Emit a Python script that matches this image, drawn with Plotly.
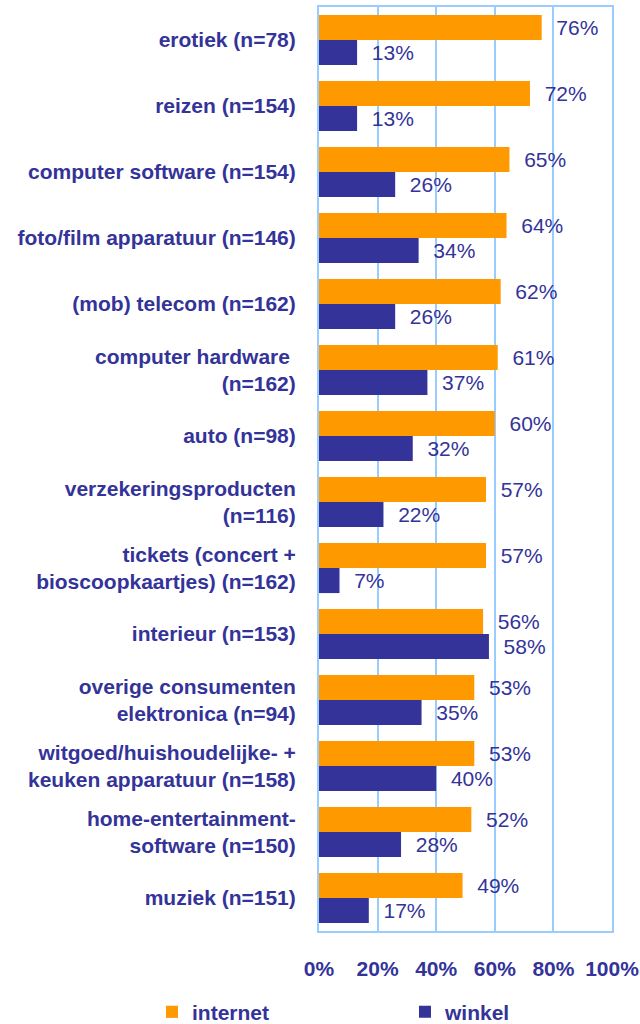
import plotly.graph_objects as go

categories = [
    "erotiek (n=78)",
    "reizen (n=154)",
    "computer software (n=154)",
    "foto/film apparatuur (n=146)",
    "(mob) telecom (n=162)",
    "computer hardware <br>(n=162)",
    "auto (n=98)",
    "verzekeringsproducten<br>(n=116)",
    "tickets (concert +<br>bioscoopkaartjes) (n=162)",
    "interieur (n=153)",
    "overige consumenten<br>elektronica (n=94)",
    "witgoed/huishoudelijke- +<br>keuken apparatuur (n=158)",
    "home-entertainment-<br>software (n=150)",
    "muziek (n=151)",
]
internet = [76, 72, 65, 64, 62, 61, 60, 57, 57, 56, 53, 53, 52, 49]
winkel = [13, 13, 26, 34, 26, 37, 32, 22, 7, 58, 35, 40, 28, 17]
x_ticks = [0, 20, 40, 60, 80, 100]
x_tick_labels = ["0%", "20%", "40%", "60%", "80%", "100%"]

ORANGE = "#FF9900"
BLUE = "#333399"
GRID = "#99CCFF"
FONT = "Arial, Liberation Sans, sans-serif"
FS = 21

fig = go.Figure()
for name, vals, col, lg in [("internet", internet, ORANGE, "legend"),
                            ("winkel", winkel, BLUE, "legend2")]:
    fig.add_trace(go.Bar(
        name=name, y=categories, x=vals, orientation="h",
        marker=dict(color=col, line=dict(width=0)),
        text=["\u00a0\u00a0%d%%" % v for v in vals],
        textposition="outside", constraintext="none", cliponaxis=False,
        textfont=dict(family=FONT, size=FS, color=BLUE),
        legend=lg,
    ))

legend_common = dict(
    orientation="h", xref="container", yref="container",
    xanchor="left", yanchor="middle", y=0.0115,
    font=dict(family=FONT, size=FS, color=BLUE, weight="bold"),
    bgcolor="rgba(0,0,0,0)",
)

fig.update_layout(
    width=640, height=1024,
    margin=dict(l=319, r=28, t=7, b=93),
    paper_bgcolor="white", plot_bgcolor="white",
    barmode="group", bargap=0.24, bargroupgap=0,
    font=dict(family=FONT, size=FS, color=BLUE),
    showlegend=True,
    legend=dict(legend_common, x=0.2375),
    legend2=dict(legend_common, x=0.6328),
)
fig.update_xaxes(
    range=[0, 100], tickvals=x_ticks, ticktext=x_tick_labels,
    showgrid=True, gridcolor=GRID, gridwidth=2,
    showline=True, linecolor=GRID, linewidth=2, mirror=True,
    zeroline=False, ticks="outside", ticklen=18, tickcolor="rgba(0,0,0,0)",
    tickfont=dict(family=FONT, size=FS, color=BLUE, weight="bold"),
    fixedrange=True, automargin=False,
)
fig.update_yaxes(
    autorange="reversed", showgrid=False,
    showline=True, linecolor=GRID, linewidth=2, mirror=True,
    ticks="outside", ticklen=17, tickcolor="rgba(0,0,0,0)",
    tickfont=dict(family=FONT, size=FS, color=BLUE, weight="bold"),
    fixedrange=True, automargin=False,
)

fig.write_html(
    "out.html",
    config={"displayModeBar": False},
    post_script="document.body.style.margin='0';document.body.style.overflow='hidden';",
)
